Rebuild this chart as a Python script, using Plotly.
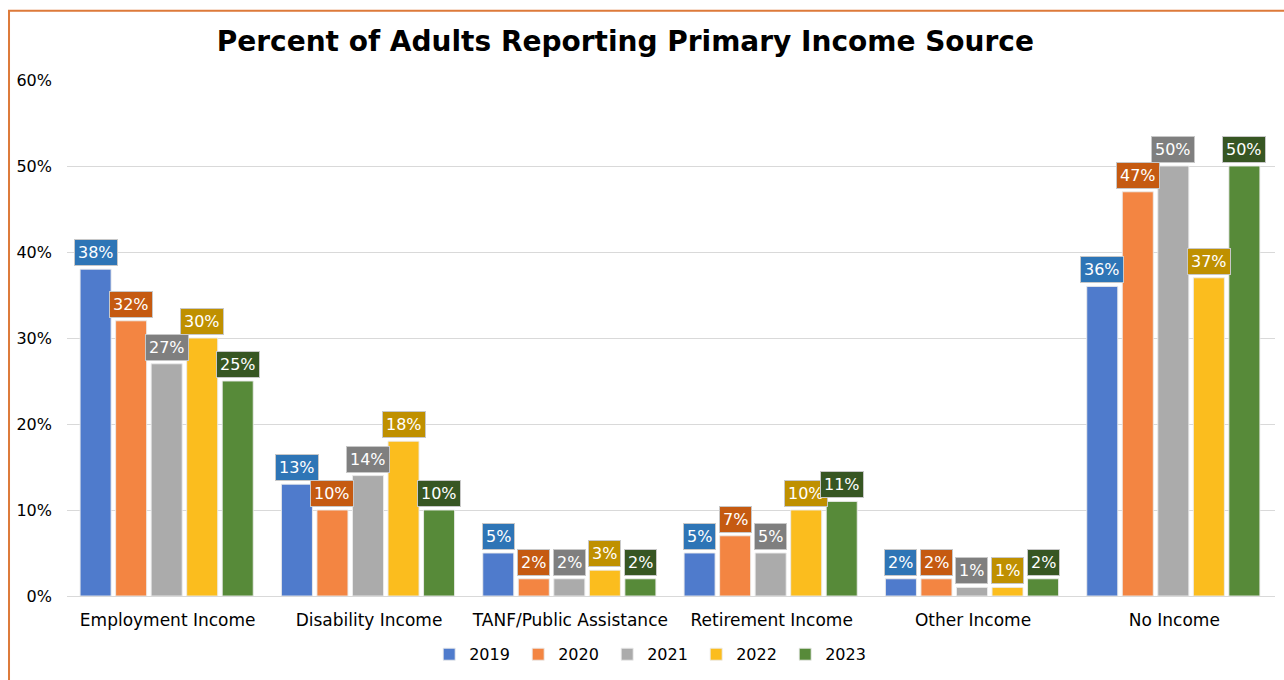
import plotly.graph_objects as go

# Income source categories and percent of adults per year
categories = ["Employment Income", "Disability Income", "TANF/Public Assistance",
              "Retirement Income", "Other Income", "No Income"]
years = ["2019", "2020", "2021", "2022", "2023"]
pct_2019 = [38, 13, 5, 5, 2, 36]
pct_2020 = [32, 10, 2, 7, 2, 47]
pct_2021 = [27, 14, 2, 5, 1, 50]
pct_2022 = [30, 18, 3, 10, 1, 37]
pct_2023 = [25, 10, 2, 11, 2, 50]
y_ticks = [0, 10, 20, 30, 40, 50, 60]

series = [pct_2019, pct_2020, pct_2021, pct_2022, pct_2023]
bar_colors = ["#4F7BCC", "#F38542", "#ABABAB", "#FBBD1E", "#578A39"]
label_colors = ["#2E75B6", "#C55A11", "#7F7F7F", "#BF9000", "#375623"]

FONT = "DejaVu Sans"
bar_w = 0.154
slot = 0.1765
start = -0.435

fig = go.Figure()
annotations = []
for k, (yr, vals) in enumerate(zip(years, series)):
    off = start + k * slot
    fig.add_trace(go.Bar(
        name=yr, x=categories, y=vals,
        width=bar_w, offset=off,
        marker=dict(color=bar_colors[k], line=dict(color="rgba(235,235,235,0.9)", width=1)),
        hoverinfo="skip",
    ))
    for i, v in enumerate(vals):
        annotations.append(dict(
            x=i + off + bar_w / 2, y=v, xref="x", yref="y",
            text=f"{v}%", showarrow=False, yanchor="bottom", yshift=3,
            font=dict(family=FONT, size=16, color="white"),
            bgcolor=label_colors[k], bordercolor="#C8C8C8", borderwidth=1, borderpad=3,
        ))

fig.update_layout(
    width=1284, height=680,
    margin=dict(l=67, r=9, t=80, b=79),
    paper_bgcolor="white", plot_bgcolor="white",
    barmode="group",
    title=dict(text="<b>Percent of Adults Reporting Primary Income Source</b>",
               x=0.487, xanchor="center", y=0.94, yanchor="middle",
               font=dict(family=FONT, size=28, color="black")),
    font=dict(family=FONT, color="black"),
    xaxis=dict(showgrid=False, showline=False, ticks="", automargin=False,
               tickfont=dict(family=FONT, size=17, color="black"),
               ticklabelstandoff=12,
               range=[-0.5, 5.5]),
    yaxis=dict(range=[0, 60], tickvals=y_ticks, automargin=False,
               ticktext=[f"{t}%" for t in y_ticks],
               showgrid=True, gridcolor="#D9D9D9", gridwidth=1,
               zeroline=True, zerolinecolor="#D9D9D9", zerolinewidth=1,
               ticks="", ticklabelstandoff=14,
               tickfont=dict(family=FONT, size=16, color="black")),
    legend=dict(orientation="h", x=0.484, xanchor="center", y=-0.113, yanchor="middle",
                font=dict(family=FONT, size=16, color="black"),
                itemwidth=30, entrywidth=44, traceorder="normal"),
    annotations=annotations,
    shapes=[dict(type="rect", xref="paper", yref="paper",
                 x0=-0.048, x1=1.02, y0=-0.2, y1=1.1344,
                 line=dict(color="#DD7A3A", width=2), layer="below")],
)

fig.write_html("out.html")
